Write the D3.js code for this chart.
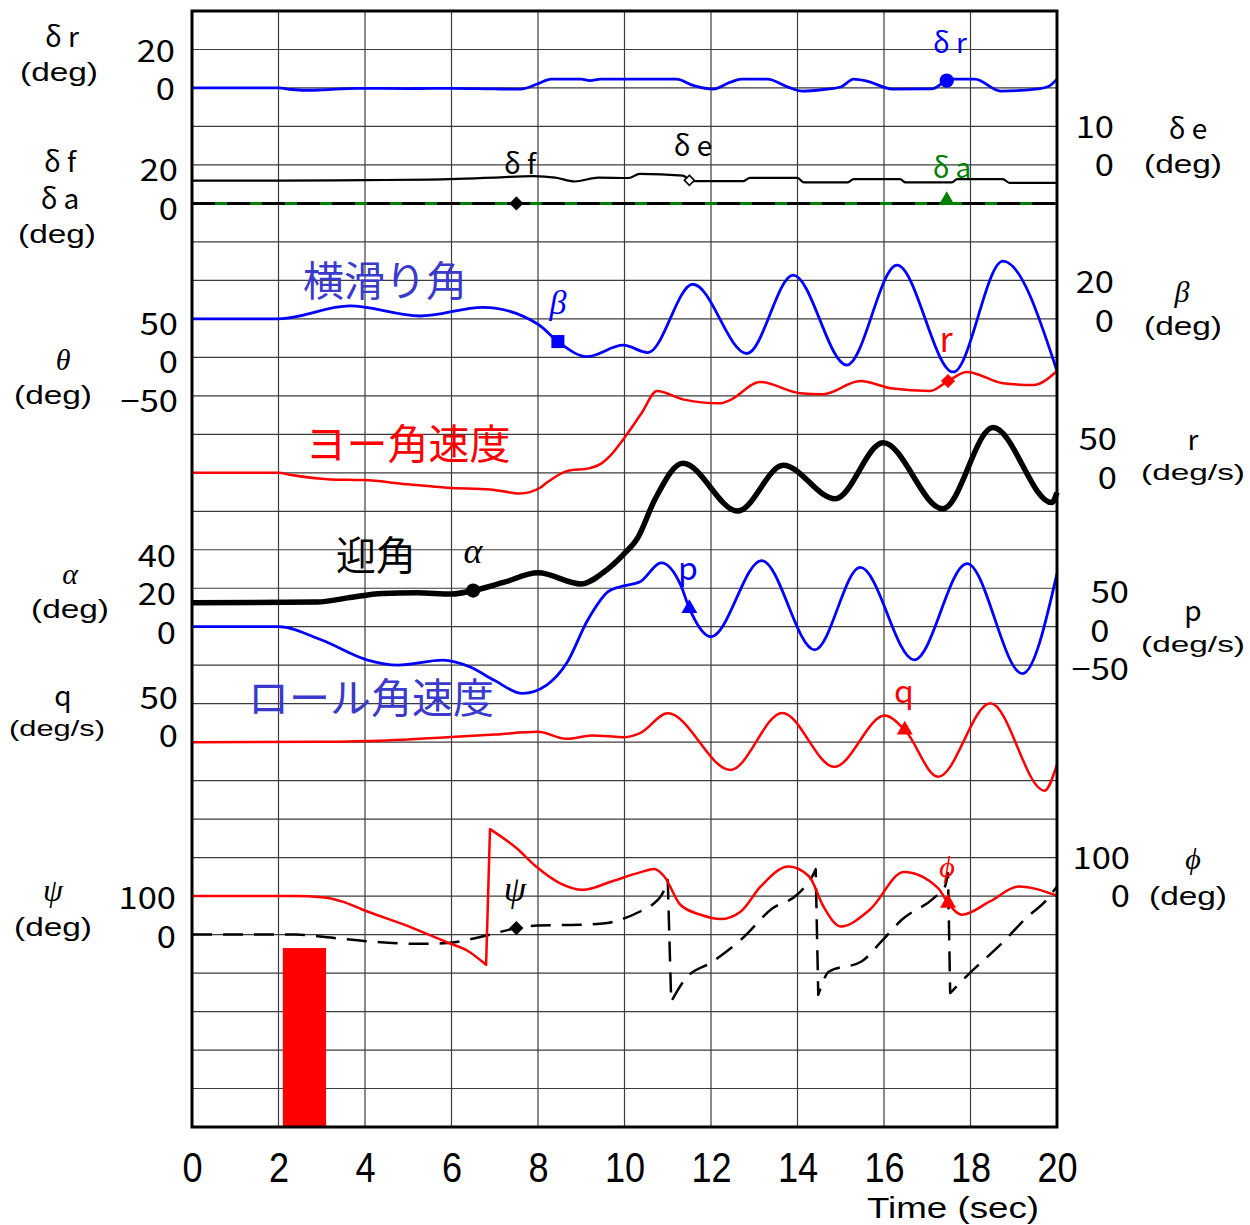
<!DOCTYPE html>
<html>
<head>
<meta charset="utf-8">
<script src="https://cdn.jsdelivr.net/npm/d3@7"></script>
<style>
  body { margin: 0; background: #fff; }
  svg { display: block; }
  text { font-family: "Noto Sans CJK JP", "Noto Sans", sans-serif; }
</style>
</head>
<body>
<svg id="chart" width="1250" height="1225"></svg>
<script>
// ---- time axis ----
const timeTicks = [0, 2, 4, 6, 8, 10, 12, 14, 16, 18, 20];

// ---- time histories: [time (s), value] ----
// rudder δr (deg)
const deltaR = [[0,0],[2.0,0],[2.3,-0.8],[2.6,-1.2],[3.0,-1.0],[3.8,-0.2],[5.0,-0.3],[6.0,-0.2],[7.0,-0.5],[7.6,-0.6],
  [8.0,2.2],[8.3,4.6],[9.0,4.6],[9.2,3.8],[9.45,4.6],[11.2,4.6],[11.6,1.2],[12.05,-0.6],[12.45,3.0],[12.7,4.6],
  [13.3,4.6],[13.8,0.3],[14.1,-1.6],[14.6,-0.8],[15.0,0.5],[15.3,4.6],[15.6,3.6],[16.2,-0.6],[17.1,-0.5],[17.45,3.8],
  [17.6,4.6],[18.1,4.6],[18.7,-1.6],[19.5,-0.6],[19.8,0.8],[20,4.6]];
// elevator δe (deg)
const deltaE = [[0,-4.1],[2,-4.1],[4,-3.95],[5.5,-3.8],[7,-3.3],[7.9,-2.9],[8.4,-3.3],[8.85,-4.3],[9.4,-3.3],[10.1,-3.4],
  [10.35,-2.3],[11.35,-2.8],[11.55,-4.2],[12.75,-4.2],[12.9,-3.35],[14.0,-3.35],[14.15,-4.55],[15.15,-4.55],[15.3,-3.7],
  [16.37,-3.7],[16.5,-4.55],[17.57,-4.55],[17.69,-3.7],[18.75,-3.7],[18.9,-4.65],[20,-4.65]];
// flap δf and aileron δa (deg)
const deltaF = [[0,0],[20,0]];
const deltaA = [[0,0],[20,0]];
// sideslip β (deg)
const beta = [[0,0],[2,0],[3.65,6.7],[5.27,1.5],[6.73,6.0],[8.0,-2.8],[8.46,-11.8],[9.13,-19.6],[9.97,-13.7],[10.54,-17.5],
  [11.58,18.0],[12.83,-18.0],[13.9,22.7],[15.14,-24.0],[16.3,27.9],[17.6,-27.6],[18.75,30.0],[20,-27.1]];
// yaw rate r (deg/s)
const yawRate = [[0,0],[2,0],[2.3,-3],[3.2,-8.6],[3.96,-9.5],[5.0,-15],[5.9,-19.4],[6.9,-21.6],[7.58,-26.8],[8.05,-19.4],
  [8.2,-13],[8.67,2.2],[9.2,6.1],[9.43,10.9],[9.66,21.7],[9.97,43.4],[10.4,78],[10.75,106.2],[11.35,95.4],[12.2,90.2],
  [12.44,94.5],[13.13,118],[14.06,103.3],[14.59,102],[15.45,119.2],[16.2,109.4],[17.06,106.2],[17.48,119.2],[17.92,131],
  [18.75,116.3],[19.45,114],[20,132.3]];
// angle of attack α (deg)
const alpha = [[0,12.5],[2.9,12.8],[3.6,15],[4.4,17.3],[5.2,17.6],[6.0,17.0],[6.5,18.8],[7.2,23],[8.0,28],[9.0,22.2],
  [9.5,28],[10.0,38.1],[10.3,46],[10.7,66],[11.35,84.9],[12.62,60.1],[13.67,83.9],[14.87,66.5],[15.98,95.6],[17.36,61.3],
  [18.52,103.5],[19.88,64.5],[20,69.8]];
// roll rate p (deg/s)
const rollRate = [[0,0],[2,0],[3.0,-17.3],[4.06,-43.3],[4.76,-49.8],[5.8,-43.3],[6.42,-52],[7.0,-70],[7.64,-86.6],
  [8.2,-75.8],[8.66,-47.6],[9.15,8.7],[9.62,45.5],[9.9,52],[10.36,58.4],[10.85,83],[11.3,54],[11.5,23.8],[12.0,-13],
  [13.17,86],[14.4,-30],[15.45,77],[16.7,-43],[17.92,82],[19.2,-61],[20,69]];
// pitch rate q (deg/s)
const pitchRate = [[0,0],[3,0.5],[4.5,2.2],[5.9,6.5],[7.0,10],[8.0,13.4],[8.66,4.3],[9.25,8.7],[10.0,6.5],[10.36,11.7],
  [11.0,37.5],[12.45,-36],[13.65,38],[14.85,-32],[16.02,34.5],[16.48,16],[17.25,-45],[18.46,50.5],[19.71,-63],[20,-29]];
// heading ψ (deg), wraps at ±180
const psi = [[0,0],[2.4,0],[2.96,-5],[3.82,-15],[5.27,-24],[5.9,-22],[6.66,-6.5],[7.51,17],[7.98,23.8],[8.97,25.5],[9.6,30],
  [9.9,38.5],[10.36,60],[10.64,77.5],[10.92,116.5],[11.0,142],[11.08,-174],[11.39,-117.6],[12.04,-70],[12.69,-13.5],
  [13.43,68.9],[13.99,103.5],[14.36,155.5],[14.42,170],[14.48,-156.6],[14.73,-96],[15.48,-70],[15.94,-17.9],[16.41,38.5],
  [17.15,94.9],[17.41,125],[17.48,160],[17.53,-152],[17.9,-109],[18.73,-22],[19.29,43],[19.76,90.5],[20,125]];
// bank angle φ (deg), wraps at ±180
const phi = [[0,0],[2.4,0],[3.0,-3],[3.5,-15],[3.95,-35.5],[5.11,-83],[5.9,-120.5],[6.36,-141.3],[6.8,-178.5],[6.89,174],
  [7.5,125],[7.97,75.6],[8.5,34],[9.04,16.5],[9.7,38],[10.36,61.6],[10.69,70.3],[10.92,51],[11.29,-22.5],[11.76,-48.5],
  [12.22,-59.7],[12.69,-39.9],[13.15,25],[13.79,77],[14.27,51],[14.6,-27],[15.0,-79],[15.67,-35.5],[16.46,62.6],
  [17.25,20.9],[17.48,-18],[17.8,-48.5],[18.45,-13.9],[19.11,25],[20,1]];
// input pulse: time window (s) and level on the ψ scale (deg)
const pulseWindow = [2.1, 3.1];
const pulseLevel = -35;

// ---- tick values for each channel ----
const ticksDeltaR = [0, 20];
const ticksDeltaFA = [0, 20];
const ticksDeltaE = [0, 10];
const ticksBeta = [0, 20];
const ticksTheta = [50, 0, -50];
const ticksYawRate = [0, 50];
const ticksAlpha = [0, 20, 40];
const ticksRollRate = [50, 0, -50];
const ticksPitchRate = [0, 50];
const ticksPhi = [0, 100];
const ticksPsi = [0, 100];

// ---- layout ----
const svg = d3.select("#chart");
const plot = { left: 192, right: 1057, top: 11, bottom: 1127 };
const nRows = 29;
const x = d3.scaleLinear().domain([0, 20]).range([plot.left, plot.right]);
const row = d3.scaleLinear().domain([0, nRows]).range([plot.top, plot.bottom]);
// each channel sits on its own grid row, with a fixed amount per row
const band = (zeroRow, perRow) =>
  d3.scaleLinear().domain([0, perRow]).range([row(zeroRow), row(zeroRow - 1)]);

const yDeltaR = band(2, 20);
const yDeltaFA = band(5, 20);
const yDeltaE = band(4, 10);
const yBeta = band(8, 20);
const yTheta = band(9, 50);
const yYaw = band(12, 50);
const yAlpha = band(16, 20);
const yRoll = band(16, 50);
const yPitch = band(19, 50);
const yPhi = band(23, 100);
const yPsi = band(24, 100);

const BLUE = "#0000ff", RED = "#ff0000", GREEN = "#008000", BLACK = "#000";
const JP_BLUE = "#3a3acc";

// ---- grid ----
const grid = svg.append("g");
grid.selectAll("line.h").data(d3.range(1, nRows)).join("line")
  .attr("x1", plot.left).attr("x2", plot.right)
  .attr("y1", d => row(d)).attr("y2", d => row(d))
  .attr("stroke", "#3c3c3c").attr("stroke-width", 1.2);
grid.selectAll("line.v").data(timeTicks.slice(1, -1)).join("line")
  .attr("y1", plot.top).attr("y2", plot.bottom)
  .attr("x1", d => x(d)).attr("x2", d => x(d))
  .attr("stroke", "#3c3c3c").attr("stroke-width", 1.2);

// ---- input pulse bar ----
svg.append("rect")
  .attr("x", x(pulseWindow[0])).attr("width", x(pulseWindow[1]) - x(pulseWindow[0]))
  .attr("y", yPsi(pulseLevel)).attr("height", plot.bottom - yPsi(pulseLevel))
  .attr("fill", RED);

// ---- curves ----
const CURVE = d3.curveMonotoneX;
// angles that wrap at ±180 are drawn as smooth runs joined by straight jumps
function curvePath(data, ys) {
  const runs = [];
  let cur = [data[0]];
  for (let i = 1; i < data.length; i++) {
    if (Math.abs(data[i][1] - data[i - 1][1]) > 180) { runs.push(cur); cur = [data[i]]; }
    else cur.push(data[i]);
  }
  runs.push(cur);
  const gen = d3.line().x(d => x(d[0])).y(d => ys(d[1])).curve(CURVE);
  return runs.map((r, i) => { const s = gen(r); return i ? "L" + s.slice(1) : s; }).join("");
}
const curves = svg.append("g").attr("fill", "none").attr("stroke-linejoin", "round");
function drawCurve(data, ys, color, width, dash) {
  const p = curves.append("path").datum(data)
    .attr("d", curvePath(data, ys)).attr("stroke", color).attr("stroke-width", width);
  if (dash) p.attr("stroke-dasharray", dash);
  return p.node();
}
const pDeltaR = drawCurve(deltaR, yDeltaR, BLUE, 2.8);
const pDeltaE = drawCurve(deltaE, yDeltaE, BLACK, 2.2);
const pDeltaA = drawCurve(deltaA, yDeltaFA, GREEN, 3);
const pDeltaF = drawCurve(deltaF, yDeltaFA, BLACK, 3, "23,12");
const pBeta = drawCurve(beta, yBeta, BLUE, 2.8);
const pYaw = drawCurve(yawRate, yYaw, RED, 2.5);
const pAlpha = drawCurve(alpha, yAlpha, BLACK, 5.5);
const pRoll = drawCurve(rollRate, yRoll, BLUE, 2.8);
const pPitch = drawCurve(pitchRate, yPitch, RED, 2.5);
const pPsi = drawCurve(psi, yPsi, BLACK, 2.5, "20,11");
const pPhi = drawCurve(phi, yPhi, RED, 2.5);

// ---- frame ----
svg.append("rect")
  .attr("x", plot.left).attr("y", plot.top)
  .attr("width", plot.right - plot.left).attr("height", plot.bottom - plot.top)
  .attr("fill", "none").attr("stroke", BLACK).attr("stroke-width", 3);

// ---- markers, placed on the drawn curves ----
function yOnPath(node, xt) {
  let lo = 0, hi = node.getTotalLength();
  for (let i = 0; i < 40; i++) {
    const mid = (lo + hi) / 2;
    if (node.getPointAtLength(mid).x < xt) lo = mid; else hi = mid;
  }
  return node.getPointAtLength((lo + hi) / 2).y;
}
const sym = {
  circle: d3.symbol().type(d3.symbolCircle).size(160)(),
  diamond: d3.symbol().type(d3.symbolSquare).size(100)(),
  smallDiamond: d3.symbol().type(d3.symbolSquare).size(50)(),
  square: d3.symbol().type(d3.symbolSquare).size(170)(),
  triangle: d3.symbol().type(d3.symbolTriangle).size(110)()
};
const markers = [
  { path: pDeltaR, t: 17.45, shape: "circle", fill: BLUE },
  { path: pDeltaF, t: 7.5, shape: "diamond", fill: BLACK, rot: 45 },
  { path: pDeltaE, t: 11.5, shape: "smallDiamond", fill: "#fff", stroke: BLACK, rot: 45 },
  { path: pDeltaA, t: 17.45, shape: "triangle", fill: GREEN, dy: -3 },
  { path: pBeta, t: 8.46, shape: "square", fill: BLUE },
  { path: pYaw, t: 17.48, shape: "diamond", fill: RED, rot: 45 },
  { path: pAlpha, t: 6.5, shape: "circle", fill: BLACK },
  { path: pRoll, t: 11.5, shape: "triangle", fill: BLUE },
  { path: pPitch, t: 16.48, shape: "triangle", fill: RED },
  { path: pPhi, t: 17.48, shape: "triangle", fill: RED },
  { path: pPsi, t: 7.5, shape: "diamond", fill: BLACK, rot: 45 }
];
svg.append("g").selectAll("path").data(markers).join("path")
  .attr("d", d => sym[d.shape])
  .attr("transform", d => `translate(${x(d.t)},${yOnPath(d.path, x(d.t)) + (d.dy || 0)}) rotate(${d.rot || 0})`)
  .attr("fill", d => d.fill)
  .attr("stroke", d => d.stroke || "none")
  .attr("stroke-width", 1.6);

// ---- value axes ----
function valueAxis(scale, ticks, xPos, side, shiftY) {
  const ax = (side === "left" ? d3.axisLeft(scale) : d3.axisRight(scale))
    .tickValues(ticks).tickSize(0).tickPadding(0).tickFormat(d3.format("d"));
  const g = svg.append("g").attr("transform", `translate(${xPos},${shiftY})`).call(ax);
  g.select(".domain").remove();
  g.selectAll("text").attr("x", 0).attr("text-anchor", "end")
    .attr("font-size", 30).attr("fill", BLACK)
    .attr("transform", "scale(1.15,1)")
    .style("font-family", '"Noto Sans CJK JP", sans-serif');
  return g;
}
valueAxis(yDeltaR, ticksDeltaR, 175, "left", 2);
valueAxis(yDeltaFA, ticksDeltaFA, 178, "left", 6);
valueAxis(yTheta, ticksTheta, 178, "left", 6);
valueAxis(yAlpha, ticksAlpha, 176, "left", 7);
valueAxis(yPitch, ticksPitchRate, 178, "left", -5);
valueAxis(yPsi, ticksPsi, 176, "left", 3);
valueAxis(yDeltaE, ticksDeltaE, 1114, "right", 1);
valueAxis(yBeta, ticksBeta, 1114, "right", 3);
valueAxis(yYaw, ticksYawRate, 1117, "right", 6);
const rollAxis = valueAxis(yRoll, ticksRollRate, 1129, "right", 5);
rollAxis.selectAll(".tick").filter(d => d === 0).select("text").attr("x", -17);
valueAxis(yPhi, ticksPhi, 1130, "right", 1);

// ---- time axis ----
const xAxis = svg.append("g").attr("transform", `translate(0,${plot.bottom})`)
  .call(d3.axisBottom(x).tickValues(timeTicks).tickSize(0).tickPadding(0).tickFormat(d3.format("d")));
xAxis.select(".domain").remove();
xAxis.selectAll("text").attr("y", 55).attr("dy", 0)
  .attr("font-size", 42).attr("transform", "scale(0.86,1)")
  .style("font-family", '"Liberation Sans", Arial, sans-serif').attr("fill", BLACK);

// ---- text ----
function label(txt, cx, cy, size, color, opts = {}) {
  const t = svg.append("text")
    .attr("x", cx).attr("y", cy + size * 0.36)
    .attr("text-anchor", "middle")
    .attr("font-size", size).attr("fill", color || BLACK)
    .text(txt);
  if (opts.italic) t.attr("font-style", "italic").style("font-family", '"Liberation Serif", "DejaVu Serif", serif');
  if (opts.sans) t.style("font-family", '"Liberation Sans", Arial, sans-serif');
  if (opts.len) t.attr("textLength", opts.len).attr("lengthAdjust", "spacingAndGlyphs");
  return t;
}
// unit captions under each channel name
const unit = (txt, cx, cy, size, len) => label(txt, cx, cy, size, BLACK, { len, sans: true });
// left titles
label("δ r", 62, 37, 28);
unit("(deg)", 59, 72, 26, 78);
label("δ f", 60, 162, 28);
label("δ a", 60, 199, 28);
unit("(deg)", 57, 234, 26, 78);
label("θ", 63, 359, 30, BLACK, { italic: true });
unit("(deg)", 53, 395, 26, 78);
label("α", 70, 573, 30, BLACK, { italic: true });
unit("(deg)", 70, 609, 26, 78);
label("q", 63, 696, 28);
unit("(deg/s)", 57, 728, 22, 96);
label("ψ", 53, 889, 32, BLACK, { italic: true });
unit("(deg)", 53, 927, 26, 78);
// right titles
label("δ e", 1188, 129, 28);
unit("(deg)", 1183, 164, 26, 78);
label("β", 1182, 291, 30, BLACK, { italic: true });
unit("(deg)", 1183, 326, 26, 78);
label("r", 1193, 440, 28);
unit("(deg/s)", 1193, 472, 22, 104);
label("p", 1193, 611, 28);
unit("(deg/s)", 1193, 644, 22, 104);
label("ϕ", 1193, 858, 30, BLACK, { italic: true });
unit("(deg)", 1188, 896, 26, 78);
// curve names
label("δ r", 950, 43, 28, BLUE);
label("δ f", 520, 164, 28, BLACK);
label("δ e", 693, 146, 28, BLACK);
label("δ a", 952, 168, 28, GREEN);
label("横滑り角", 385, 281, 41, JP_BLUE);
label("β", 558, 302, 34, BLUE, { italic: true });
label("ヨー角速度", 408, 444, 41, RED);
label("r", 946, 340, 34, RED);
label("迎角", 376, 556, 40, BLACK);
label("α", 473, 550, 36, BLACK, { italic: true });
label("p", 688, 568, 32, BLUE);
label("ロール角速度", 371, 698, 41, JP_BLUE);
label("q", 904, 691, 32, RED);
label("ψ", 515, 888, 36, BLACK, { italic: true });
label("ϕ", 947, 866, 30, RED, { italic: true });
// time axis title
label("Time (sec)", 953, 1207, 30, BLACK, { len: 172, sans: true });
</script>
</body>
</html>
